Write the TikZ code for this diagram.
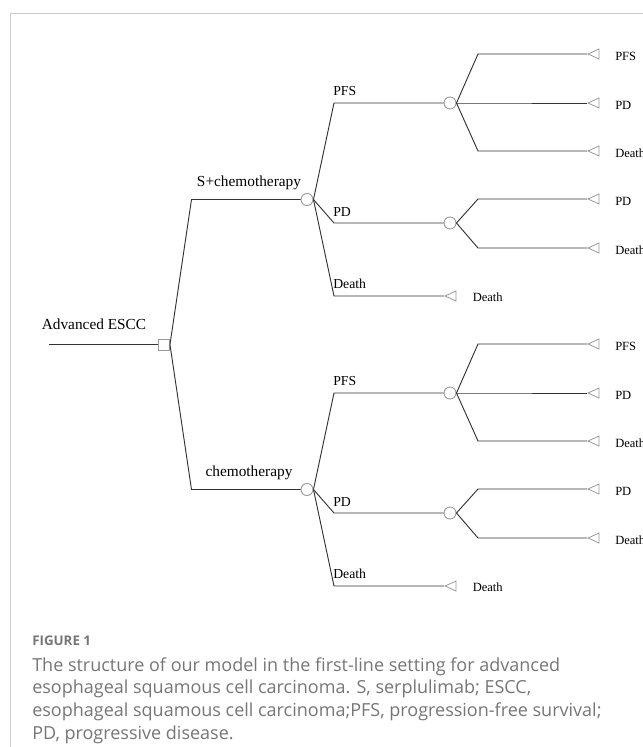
\documentclass[tikz,border=0pt]{standalone}
\usepackage{fontspec}
\setmainfont{Liberation Serif}
\newfontfamily\capfont{Open Sans}
\usepackage{xcolor}
\usetikzlibrary{shapes.geometric,positioning}

\definecolor{treeline}{HTML}{333333}
\definecolor{nodegray}{HTML}{9A9A9A}
\definecolor{framegray}{HTML}{CCCCCC}
\definecolor{capgray}{HTML}{767676}

\begin{document}
\begin{tikzpicture}[x=0.75pt, y=-0.75pt,
    branch/.style={draw=treeline, line width=0.7pt},
    decision/.style={draw=nodegray, rectangle, minimum size=8.25pt, inner sep=0pt, line width=0.7pt},
    chance/.style={draw=nodegray, circle, minimum size=9pt, inner sep=0pt, line width=0.7pt},
    leaf/.style={draw=nodegray, isosceles triangle, shape border rotate=180, isosceles triangle stretches, minimum width=7.5pt, minimum height=8.25pt, inner sep=0pt, line width=0.6pt},
    armlab/.style={font=\fontsize{11.5}{13}\selectfont, inner sep=0pt},
    statelab/.style={font=\fontsize{10.3}{12}\selectfont, inner sep=0pt, anchor=west},
    endlab/.style={font=\fontsize{9.4}{11}\selectfont, inner sep=0pt, anchor=west}]

    \useasboundingbox (0,0) rectangle (643,747);
    \clip (0,0) rectangle (643,747);

    % Frame of the figure box
    \draw[framegray, line width=0.75pt] (10,760) -- (10,13.5) -- (660,13.5);

    % Root and decision node
    \node[decision] (dec) at (164,344.5) {};
    \coordinate (root) at (49,344.5);
    \draw[branch] (root) -- (dec.west);
    \node[armlab] (rootlab) at (94,324.5) {Advanced ESCC};

    % Two arms (lower arm = upper arm moved down)
    \foreach \arm/\dy/\txt in {u/0/S+chemotherapy, l/290/chemotherapy} {
        \begin{scope}[shift={(0,\dy)}]
            \node[chance] (c\arm) at (307,199.5) {};
            \node[armlab] (a\arm) at (249,183) {\txt};
            \draw[branch] (dec.east) -- (191.5,199.5) -- (c\arm.west);

            % States after the first cycle
            \node[chance] (p\arm) at (450,103) {};
            \node[chance] (q\arm) at (450,223) {};
            \node[leaf, anchor=apex] (x\arm) at (444,296) {};
            \draw[branch] (c\arm.east) -- (334,103) -- (p\arm.west);
            \draw[branch] (c\arm.east) -- (334,223) -- (q\arm.west);
            \draw[branch] (c\arm.east) -- (334,296) -- (x\arm.apex);
            \node[statelab] (sp\arm) at (333,91) {PFS};
            \node[statelab] (sq\arm) at (333,212.5) {PD};
            \node[statelab] (sx\arm) at (333,284) {Death};
            \node[endlab] (ex\arm) at (472.5,297.5) {Death};

            % Terminal nodes
            \foreach \n/\yy/\lab/\src in {1/54/PFS/p, 2/103/PD/p, 3/151/Death/p, 4/199/PD/q, 5/248/Death/q} {
                \node[leaf, anchor=apex] (t\arm\n) at (587,\yy) {};
                \node[endlab] (e\arm\n) at (615,\yy+2.5) {\lab};
                \draw[branch] (\src\arm.east) -- (478,\yy) -- (t\arm\n.apex);
            }
        \end{scope}
    }

    % Caption
    \node[anchor=west, inner sep=0pt, text=capgray, font=\capfont\bfseries\fontsize{10}{12}\selectfont] (fig) at (32,641) {FIGURE 1};
    \node[anchor=north west, inner sep=0pt, align=left, text=capgray, font=\capfont\fontsize{13.5}{17}\selectfont] (cap) at (32,657) {The structure of our model in the first-line setting for advanced\\
        esophageal squamous cell carcinoma. S, serplulimab; ESCC,\\
        esophageal squamous cell carcinoma;PFS, progression-free survival;\\
        PD, progressive disease.};
\end{tikzpicture}
\end{document}
